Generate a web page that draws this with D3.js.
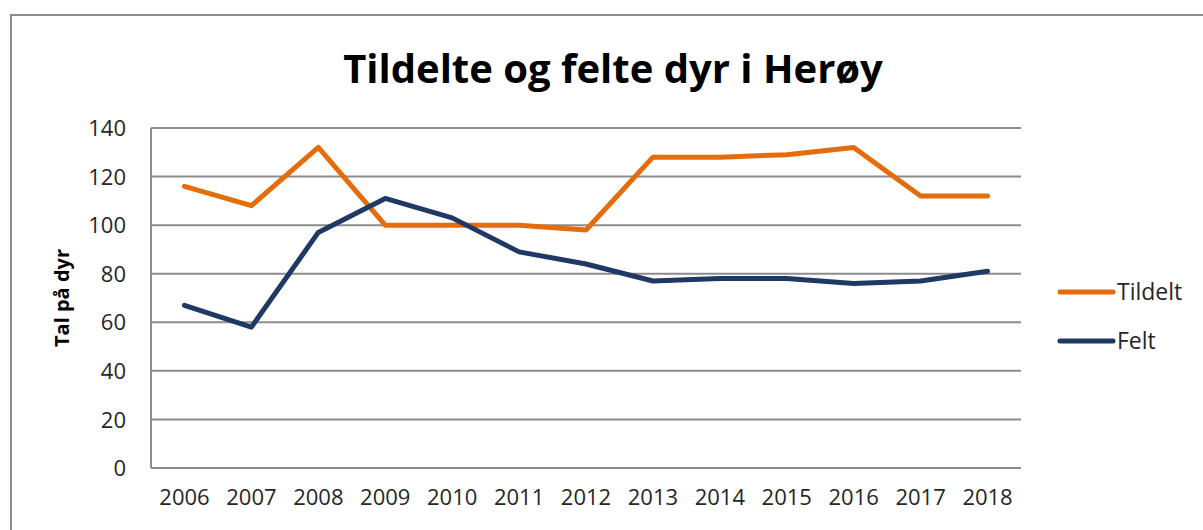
<!DOCTYPE html>
<html>
<head>
<meta charset="utf-8">
<script src="https://cdn.jsdelivr.net/npm/d3@7"></script>
<style>
  body { margin: 0; background: #fff; }
  text { font-family: "Open Sans", "Noto Sans", sans-serif; fill: #262626; }
</style>
</head>
<body>
<div id="chart"></div>
<script>
var years   = ["2006","2007","2008","2009","2010","2011","2012","2013","2014","2015","2016","2017","2018"];
var tildelt = [116, 108, 132, 100, 100, 100, 98, 128, 128, 129, 132, 112, 112];
var felt    = [67, 58, 97, 111, 103, 89, 84, 77, 78, 78, 76, 77, 81];
var yTicks  = [0, 20, 40, 60, 80, 100, 120, 140];
var seriesNames  = ["Tildelt", "Felt"];
var seriesColors = ["#e46c0a", "#1f3864"];

var width = 1203, height = 530;
var margin = {top: 128, right: 182, bottom: 62, left: 151};
var w = width - margin.left - margin.right;
var h = height - margin.top - margin.bottom;

var svg = d3.select("#chart").append("svg")
  .attr("width", width)
  .attr("height", height);

// outer frame
svg.append("rect")
  .attr("x", 11).attr("y", 15)
  .attr("width", 1220).attr("height", 540)
  .attr("fill", "none")
  .attr("stroke", "#8c8c8c")
  .attr("stroke-width", 2);

svg.append("text")
  .attr("x", 613).attr("y", 83)
  .attr("text-anchor", "middle")
  .style("font-size", "40px")
  .style("font-weight", "bold")
  .style("fill", "#000")
  .text("Tildelte og felte dyr i Herøy");

var g = svg.append("g")
  .attr("transform", "translate(" + margin.left + "," + margin.top + ")");

var x = d3.scaleBand().domain(years).range([0, w]);
var y = d3.scaleLinear().domain([0, 140]).range([h, 0]);

// gridlines
g.append("g").selectAll("line")
  .data(yTicks)
  .enter().append("line")
  .attr("x1", 0).attr("x2", w)
  .attr("y1", function(d) { return y(d); })
  .attr("y2", function(d) { return y(d); })
  .attr("stroke", "#8c8c8c")
  .attr("stroke-width", 2);

g.append("line")
  .attr("x1", 0).attr("x2", 0)
  .attr("y1", 0).attr("y2", h)
  .attr("stroke", "#8c8c8c")
  .attr("stroke-width", 2);

var yAxis = d3.axisLeft(y).tickValues(yTicks).tickSize(0).tickPadding(25);
g.append("g").call(yAxis)
  .call(function(s) { s.select(".domain").remove(); })
  .selectAll("text")
  .style("font-size", "22px")
  .attr("dy", "0.35em");

var xAxis = d3.axisBottom(x).tickSize(0).tickPadding(21);
g.append("g")
  .attr("transform", "translate(0," + h + ")")
  .call(xAxis)
  .call(function(s) { s.select(".domain").remove(); })
  .selectAll("text")
  .style("font-size", "22px");

svg.selectAll(".tick text").style("fill", "#262626");

svg.append("text")
  .attr("transform", "translate(69,298) rotate(-90)")
  .attr("text-anchor", "middle")
  .style("font-size", "20px")
  .style("font-weight", "bold")
  .style("fill", "#000")
  .text("Tal på dyr");

var line = d3.line()
  .x(function(d, i) { return x(years[i]) + x.bandwidth() / 2; })
  .y(function(d) { return y(d); });

[tildelt, felt].forEach(function(s, i) {
  g.append("path")
    .datum(s)
    .attr("d", line)
    .attr("fill", "none")
    .attr("stroke", seriesColors[i])
    .attr("stroke-width", 5)
    .attr("stroke-linejoin", "round")
    .attr("stroke-linecap", "round");
});

// legend
var legend = svg.append("g").selectAll("g")
  .data(seriesNames)
  .enter().append("g")
  .attr("transform", function(d, i) { return "translate(1060," + (292 + i * 49) + ")"; });

legend.append("line")
  .attr("x1", 0).attr("x2", 53)
  .attr("stroke", function(d, i) { return seriesColors[i]; })
  .attr("stroke-width", 5)
  .attr("stroke-linecap", "round");

legend.append("text")
  .attr("x", 57).attr("dy", "0.35em")
  .style("font-size", "23px")
  .text(function(d) { return d; });
</script>
</body>
</html>
